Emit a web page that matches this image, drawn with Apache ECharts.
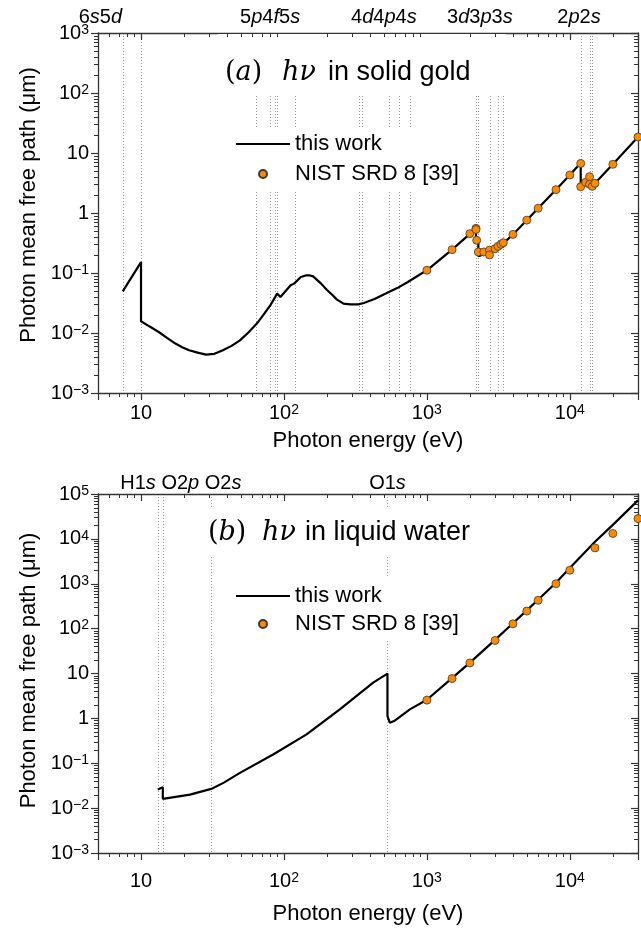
<!DOCTYPE html>
<html><head><meta charset="utf-8">
<script src="https://cdn.jsdelivr.net/npm/echarts@6/dist/echarts.min.js"></script>
<style>html,body{margin:0;padding:0;background:#fff}#c{width:641px;height:932px}</style>
</head><body><div id="c"></div>
<script>
// ---------- data ----------
const goldCurveE = [7.45, 10.0, 10.0, 11.5, 13.3, 15.2, 17.4, 19.4, 21.7, 24.9, 28.5, 32.6, 37.4, 43, 49.2, 56.4, 64.6, 72, 80.4, 89.6, 94.5, 111.4, 117.7, 131.3, 142, 150, 160, 182, 200, 213, 235, 261, 291, 330, 362, 430, 516, 620, 736, 860, 1000, 1500, 2000, 2206, 2206, 2291, 2291, 2400, 2743, 2743, 3000, 3148, 3148, 3425, 3425, 4000, 5000, 6000, 8000, 10000, 11919, 11919, 12900, 13734, 13734, 14353, 14353, 15000, 20000, 30000];
const goldCurveL = [0.0495, 0.152, 0.0157, 0.0128, 0.0104, 0.0083, 0.00666, 0.0058, 0.00515, 0.0047, 0.00436, 0.0045, 0.00515, 0.0061, 0.00755, 0.0102, 0.01435, 0.0202, 0.029, 0.0454, 0.0398, 0.0624, 0.0665, 0.0858, 0.091, 0.0916, 0.088, 0.0665, 0.052, 0.0454, 0.036, 0.0309, 0.0299, 0.0300, 0.0316, 0.037, 0.0454, 0.056, 0.0708, 0.089, 0.111, 0.245, 0.45, 0.575, 0.36, 0.38, 0.19, 0.198, 0.235, 0.21, 0.25, 0.275, 0.262, 0.31, 0.30, 0.44, 0.76, 1.2, 2.45, 4.3, 6.8, 2.7, 3.3, 4.05, 3.0, 3.35, 2.8, 3.13, 6.5, 18.5];
const goldNistE = [1000, 1500, 2000, 2206, 2206, 2230, 2291, 2500, 2743, 2743, 3000, 3148, 3300, 3425, 4000, 5000, 6000, 8000, 10000, 11919, 11919, 12900, 13734, 13734, 14353, 15000, 20000, 30000];
const goldNistL = [0.111, 0.245, 0.453, 0.555, 0.53, 0.351, 0.224, 0.224, 0.24, 0.2, 0.254, 0.278, 0.30, 0.32, 0.44, 0.76, 1.2, 2.45, 4.3, 6.7, 2.74, 3.25, 4.03, 3.0, 2.78, 3.13, 6.47, 18.5];
const goldEdges = [7.45, 10.0, 64, 80, 86.5, 89.5, 120, 335, 353, 546, 643, 762, 2206, 2291, 2743, 3148, 3425, 11919, 13734, 14353];
const goldEdgeLabels = ['6s5d', '5p4f5s', '4d4p4s', '3d3p3s', '2p2s'];
const goldEdgeLabelE = [5.2, 80, 500, 2350, 11600];

const waterCurveE = [13.1, 14.2, 14.2, 22, 31, 31, 38, 49.2, 84, 144, 246, 421, 530, 530, 550, 590, 760, 1000, 1500, 2000, 3000, 4000, 5000, 6000, 8000, 10000, 15000, 20000, 30000];
const waterCurveL = [0.0259, 0.0292, 0.0161, 0.020, 0.0268, 0.0251, 0.037, 0.061, 0.157, 0.44, 1.59, 6.27, 9.96, 1.12, 0.80, 0.87, 1.59, 2.6, 7.9, 17.5, 56, 132, 255, 440, 1050, 2250, 8600, 20500, 72000];
const waterNistE = [1000, 1500, 2000, 3000, 4000, 5000, 6000, 8000, 10000, 15000, 20000, 30000];
const waterNistL = [2.55, 7.7, 17.2, 54.5, 128, 246, 427, 1000, 2000, 6300, 13200, 28300];
const waterEdges = [13.1, 14.2, 31, 530];
const waterEdgeLabels = ['H1s O2p O2s', 'O1s'];
const waterEdgeLabelE = [19, 530];

const xRange = [5, 30000];
const yRangeA = [1e-3, 1e3];
const yRangeB = [1e-3, 1e5];

// ---------- styling ----------
const SANS = 'Liberation Sans, Arial, sans-serif';
const SERIF = 'DejaVu Serif, serif';
const AXC = '#333';

function zip(a, b) { return a.map((v, i) => [v, b[i]]); }
function supLabel(v) {
  const l = Math.log10(v);
  const n = Math.round(l);
  if (Math.abs(l - n) > 1e-6) return '';
  if (n === 0) return '{b|1}';
  if (n === 1) return '{b|10}';
  return '{b|10}{s|' + (n < 0 ? '\u2212' + (-n) : n) + '}';
}
const labRich = {
  b: {fontSize: 20, fontFamily: SANS, color: '#000', lineHeight: 20},
  s: {fontSize: 14, fontFamily: SANS, color: '#000', lineHeight: 10, verticalAlign: 'top'}
};
function italicize(s) { return s.replace(/(\d)([spdf])/g, '$1{i|$2}'); }

function xAxes(grid, labelMargin, nameGap) {
  return [
    {gridIndex: grid, type: 'log', logBase: 10, min: xRange[0], max: xRange[1], position: 'bottom',
     axisLine: {onZero: false, lineStyle: {color: AXC, width: 1.3}},
     axisTick: {inside: false, length: 7, lineStyle: {color: AXC, width: 1.2}},
     axisLabel: {formatter: supLabel, rich: labRich, margin: labelMargin, showMinLabel: true, showMaxLabel: true},
     splitLine: {show: false}, minorTick: {show: false},
     name: 'Photon energy (eV)', nameLocation: 'middle', nameGap: nameGap,
     nameTextStyle: {fontSize: 22, fontFamily: SANS, color: '#000'}},
    {gridIndex: grid, type: 'log', logBase: 10, min: xRange[0], max: xRange[1], position: 'top',
     axisLine: {onZero: false, lineStyle: {color: AXC, width: 1.3}},
     axisTick: {inside: true, length: 7, lineStyle: {color: AXC, width: 1.2}},
     axisLabel: {show: false}, splitLine: {show: false}}
  ];
}
function yAxes(grid, yr, shift) {
  return [
    {gridIndex: grid, type: 'log', logBase: 10, min: yr[0], max: yr[1], position: 'left',
     axisLine: {onZero: false, lineStyle: {color: AXC, width: 1.3}},
     axisTick: {inside: false, length: 7, lineStyle: {color: AXC, width: 1.2}},
     axisLabel: {formatter: supLabel, rich: labRich, margin: 9},
     splitLine: {show: false},
     name: 'Photon mean free path (\u03bcm)', nameLocation: 'middle', nameGap: 57,
     nameTextStyle: {fontSize: 22, fontFamily: SANS, color: '#000', padding: [0, 0, 0, shift]}},
    {gridIndex: grid, type: 'log', logBase: 10, min: yr[0], max: yr[1], position: 'right',
     axisLine: {onZero: false, lineStyle: {color: AXC, width: 1.3}},
     axisTick: {inside: true, length: 7, lineStyle: {color: AXC, width: 1.2}},
     axisLabel: {show: false}, splitLine: {show: false}}
  ];
}

function edgeSeries(xi, yi, edges, yMin) {
  return {
    type: 'custom', xAxisIndex: xi, yAxisIndex: yi, z: 0, silent: true, clip: false,
    data: edges.map(e => [e, yMin]),
    renderItem: function (params, api) {
      const cs = params.coordSys;
      const px = Math.round(api.coord([api.value(0), api.value(1)])[0]) + 0.5;
      return {type: 'line', shape: {x1: px, y1: cs.y, x2: px, y2: cs.y + cs.height},
              style: {stroke: '#9a9a9a', lineWidth: 1, lineDash: [1, 2]}};
    }
  };
}
function minorTickSeries(xi, yi, xr, yr) {
  return {
    type: 'custom', xAxisIndex: xi, yAxisIndex: yi, z: 4, silent: true, clip: false,
    data: [[xr[0], yr[0]]],
    renderItem: function (params, api) {
      const cs = params.coordSys;
      const ch = [];
      const st = {stroke: AXC, lineWidth: 1};
      const L = 4;
      for (let d = Math.floor(Math.log10(xr[0])); d <= Math.ceil(Math.log10(xr[1])); d++) {
        for (let m = 2; m <= 9; m++) {
          const v = m * Math.pow(10, d);
          if (v <= xr[0] || v >= xr[1]) continue;
          const px = Math.round(api.coord([v, yr[0]])[0]) + 0.5;
          ch.push({type: 'line', shape: {x1: px, y1: cs.y + cs.height, x2: px, y2: cs.y + cs.height + L}, style: st});
          ch.push({type: 'line', shape: {x1: px, y1: cs.y, x2: px, y2: cs.y + L}, style: st});
        }
      }
      for (let d = Math.floor(Math.log10(yr[0])); d <= Math.ceil(Math.log10(yr[1])); d++) {
        for (let m = 2; m <= 9; m++) {
          const v = m * Math.pow(10, d);
          if (v <= yr[0] || v >= yr[1]) continue;
          const py = Math.round(api.coord([xr[0], v])[1]) + 0.5;
          ch.push({type: 'line', shape: {x1: cs.x - L, y1: py, x2: cs.x, y2: py}, style: st});
          ch.push({type: 'line', shape: {x1: cs.x + cs.width - L, y1: py, x2: cs.x + cs.width, y2: py}, style: st});
        }
      }
      return {type: 'group', children: ch};
    }
  };
}
function edgeLabelSeries(xi, yi, labels, energies, yMax, off) {
  return {
    type: 'custom', xAxisIndex: xi, yAxisIndex: yi, z: 4, silent: true, clip: false,
    data: energies.map((e, i) => [e, yMax, i]),
    renderItem: function (params, api) {
      const cs = params.coordSys;
      const px = api.coord([api.value(0), api.value(1)])[0];
      return {type: 'text', x: px, y: cs.y - off,
        style: {text: italicize(labels[api.value(2)]), fontSize: 20, fontFamily: SANS, fill: '#000',
                align: 'center', verticalAlign: 'middle',
                rich: {i: {fontSize: 20, fontFamily: SANS, fontStyle: 'italic', fill: '#000'}}}};
    }
  };
}
function curveSeries(xi, yi, E, L) {
  return {type: 'line', name: 'this work', xAxisIndex: xi, yAxisIndex: yi, data: zip(E, L),
          showSymbol: false, symbol: 'none', z: 5, animation: false,
          lineStyle: {color: '#000', width: 2.2}, itemStyle: {color: '#000'}};
}
function nistSeries(xi, yi, E, L) {
  return {type: 'scatter', name: 'NIST SRD 8 [39]', xAxisIndex: xi, yAxisIndex: yi, data: zip(E, L),
          symbol: 'circle', symbolSize: 8, z: 6, animation: false,
          itemStyle: {color: '#ff8a00', borderColor: '#3a3a3a', borderWidth: 0.8, opacity: 1}};
}
function titleTexts(x0, xh, xt, yc, letter, rest, box) {
  const r = {p: {fontSize: 27, fontFamily: SERIF, fill: '#000'},
             i: {fontSize: 27, fontFamily: SERIF, fontStyle: 'italic', fill: '#000'}};
  return [
    {type: 'rect', shape: box, style: {fill: '#fff'}, z: 1, silent: true},
    {type: 'text', x: x0, y: yc, z: 2, style: {text: '{p|(}{i|' + letter + '}{p|)}', rich: r, fontSize: 27, fontFamily: SERIF, fill: '#000', verticalAlign: 'middle'}},
    {type: 'text', x: xh, y: yc, z: 2, style: {text: 'h\u03bd', fontSize: 27, fontFamily: SERIF, fontStyle: 'italic', fill: '#000', verticalAlign: 'middle'}},
    {type: 'text', x: xt, y: yc, z: 2, style: {text: rest, fontSize: 27, fontFamily: SANS, fill: '#000', verticalAlign: 'middle'}}
  ];
}

const legendBase = {
  data: [{name: 'this work', icon: 'path://M0,0 h54 v2.2 h-54 z'}, {name: 'NIST SRD 8 [39]', icon: 'circle'}],
  orient: 'vertical', left: 232,
  itemWidth: 54, itemHeight: 8, backgroundColor: '#fff', selectedMode: false, z: 4,
  textStyle: {fontSize: 22, fontFamily: SANS, color: '#000', lineHeight: 22}};

const chart = echarts.init(document.getElementById('c'), null, {renderer: 'canvas'});
chart.setOption({
  animation: false,
  backgroundColor: '#fff',
  grid: [{left: 98, top: 33, width: 540, height: 360}, {left: 98, top: 494, width: 540, height: 359}],
  xAxis: [...xAxes(0, 10, 37), ...xAxes(1, 18, 50)],
  yAxis: [...yAxes(0, yRangeA, 16), ...yAxes(1, yRangeB, 6)],
  legend: [
    Object.assign({}, legendBase, {top: 129, padding: [4, 12, 5, 4], itemGap: 8}),
    Object.assign({}, legendBase, {top: 578, padding: [7, 12, 5, 4], itemGap: 6})
  ],
  graphic: [
    ...titleTexts(225, 282, 328, 73, 'a', 'in solid gold', {x: 218, y: 34, width: 288, height: 61}),
    ...titleTexts(208, 262, 305, 533, 'b', 'in liquid water', {x: 204, y: 508, width: 278, height: 47})
  ],
  series: [
    edgeSeries(0, 0, goldEdges, yRangeA[0]),
    minorTickSeries(0, 0, xRange, yRangeA),
    edgeLabelSeries(0, 0, goldEdgeLabels, goldEdgeLabelE, yRangeA[1], 16),
    curveSeries(0, 0, goldCurveE, goldCurveL),
    nistSeries(0, 0, goldNistE, goldNistL),
    edgeSeries(2, 2, waterEdges, yRangeB[0]),
    minorTickSeries(2, 2, xRange, yRangeB),
    edgeLabelSeries(2, 2, waterEdgeLabels, waterEdgeLabelE, yRangeB[1], 11),
    curveSeries(2, 2, waterCurveE, waterCurveL),
    nistSeries(2, 2, waterNistE, waterNistL)
  ]
});
</script></body></html>
